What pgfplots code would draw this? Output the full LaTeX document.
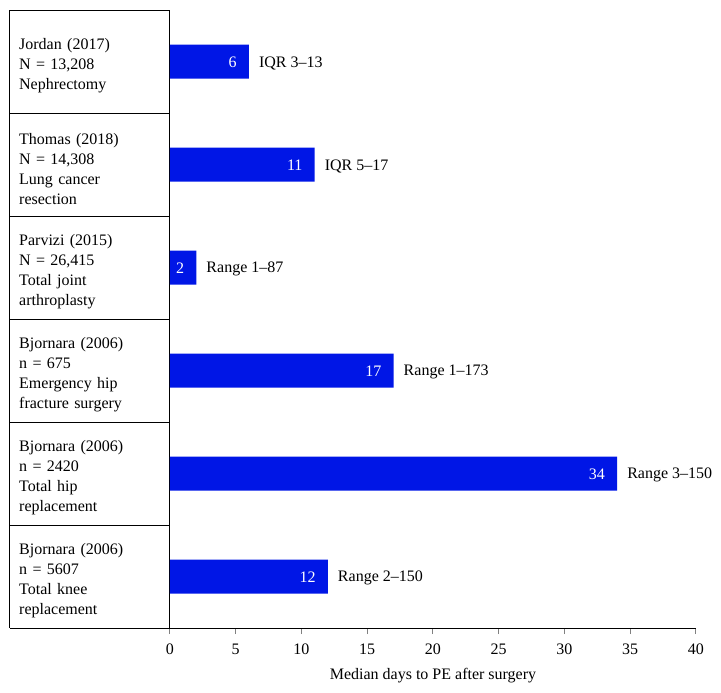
\documentclass[border=0pt]{standalone}
\usepackage{pgfplots}
\pgfplotsset{compat=1.18}
\usepackage{fontspec}
\setmainfont{Liberation Serif}
\definecolor{barblue}{RGB}{0,22,230}
\begin{document}
\begin{tikzpicture}[x=1pt,y=1pt]
\path[use as bounding box] (0,0) rectangle (721,693);
\begin{axis}[
  at={(170pt,65pt)}, anchor=south west,
  width=526pt, height=618pt, scale only axis,
  xmin=0, xmax=40, ymin=-0.5, ymax=5.5, y dir=reverse,
  axis x line*=bottom, axis y line*=left,
  axis line style={line width=1pt},
  xtick={0,5,...,40}, xtick align=outside, major tick length=6pt,
  xtick style={line width=1pt},
  ytick={0,...,5}, ytick style={draw=none},
  yticklabels={{Jordan (2017)\\N = 13,208\\Nephrectomy},
               {Thomas (2018)\\N = 14,308\\Lung cancer\\resection},
               {Parvizi (2015)\\N = 26,415\\Total joint\\arthroplasty},
               {Bjornara (2006)\\n = 675\\Emergency hip\\fracture surgery},
               {Bjornara (2006)\\n = 2420\\Total hip\\replacement},
               {Bjornara (2006)\\n = 5607\\Total knee\\replacement}},
  ticklabel style={font=\fontsize{16}{19}\selectfont},
  xticklabel style={yshift=-6pt},
  yticklabel style={anchor=west, xshift=-151pt, yshift=-4.5pt, text width=150pt, align=left, inner sep=0pt, font=\fontsize{16}{20}\selectfont},
  /pgf/number format/assume math mode=true,
  xlabel={Median days to PE after surgery},
  xlabel style={font=\fontsize{16}{19}\selectfont, yshift=-7pt},
  clip=false,
]
\addplot[xbar, bar width=34pt, fill=barblue, draw=none,
  nodes near coords,
  every node near coord/.append style={anchor=east, inner sep=0pt, xshift=-12pt, yshift=-1pt, text=white, font=\fontsize{16}{19}\selectfont}]
  coordinates {(6,0) (11,1) (2,2) (17,3) (34,4) (12,5)};
\addplot[draw=none, mark=none, nodes near coords, point meta=explicit symbolic,
  every node near coord/.append style={anchor=west, inner sep=0pt, xshift=10pt, yshift=-1.5pt, text=black, font=\fontsize{16}{19}\selectfont}]
  coordinates {(6,0) [IQR 3–13] (11,1) [IQR 5–17] (2,2) [Range 1–87] (17,3) [Range 1–173] (34,4) [Range 3–150] (12,5) [Range 2–150]};
\draw[line width=1pt] ([xshift=-160pt]axis cs:0,-0.5) -- (axis cs:0,-0.5);
\draw[line width=1pt] ([xshift=-160pt]axis cs:0,0.5) -- (axis cs:0,0.5);
\draw[line width=1pt] ([xshift=-160pt]axis cs:0,1.5) -- (axis cs:0,1.5);
\draw[line width=1pt] ([xshift=-160pt]axis cs:0,2.5) -- (axis cs:0,2.5);
\draw[line width=1pt] ([xshift=-160pt]axis cs:0,3.5) -- (axis cs:0,3.5);
\draw[line width=1pt] ([xshift=-160pt]axis cs:0,4.5) -- (axis cs:0,4.5);
\draw[line width=1pt] ([xshift=-160pt]axis cs:0,5.5) -- (axis cs:0,5.5);
\draw[line width=1pt] ([xshift=-160pt]axis cs:0,-0.5) -- ([xshift=-160pt]axis cs:0,5.5);
\end{axis}
\end{tikzpicture}
\end{document}
